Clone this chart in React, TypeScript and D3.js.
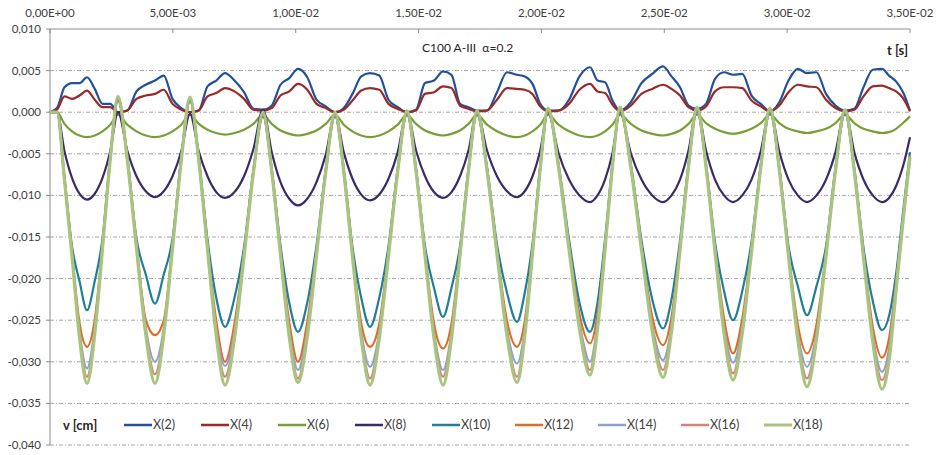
import React from 'react';
import * as d3 from 'd3';

const width = 938;
const height = 455;
const margin = { top: 29, right: 28, bottom: 10, left: 50 };

// sample times [s]
const time = [
  0, 0.000285, 0.00059, 0.000895, 0.0012, 0.001506, 0.001821, 0.002137, 0.002452, 0.002768,
  0.003144, 0.00352, 0.003897, 0.004273, 0.004629, 0.004986, 0.005342, 0.005698,
  0.006054, 0.00641, 0.006766, 0.007122, 0.007509, 0.007896, 0.008282, 0.008669,
  0.009025, 0.009381, 0.009737, 0.010093, 0.01047, 0.010846, 0.011223, 0.011599,
  0.011955, 0.012311, 0.012667, 0.013024, 0.0134, 0.013776, 0.014153, 0.014529,
  0.014896, 0.015262, 0.015628, 0.015995, 0.01634, 0.016686, 0.017032, 0.017378,
  0.017785, 0.018192, 0.018599, 0.019006, 0.019322, 0.019637, 0.019952, 0.020268,
  0.020695, 0.021123, 0.02155, 0.021977, 0.022282, 0.022588, 0.022893, 0.023198,
  0.023636, 0.024073, 0.024511, 0.024948, 0.025294, 0.02564, 0.025986, 0.026332,
  0.026698, 0.027064, 0.027431, 0.027797, 0.028174, 0.02855, 0.028926, 0.029303,
  0.029679, 0.030056, 0.030432, 0.030809, 0.031195, 0.031582, 0.031969, 0.032355,
  0.032732, 0.033108, 0.033485, 0.033861, 0.034146, 0.034431, 0.034716, 0.035
];

// displacements v [cm]
const x2 = [
  0, 0.0005, 0.003, 0.0035, 0.0035, 0.0042, 0.0028, 0.001, 0.001, 0,
  0.0002, 0.0025, 0.0033, 0.0038, 0.0044, 0.0016, 0.0005, 0,
  0.0002, 0.0031, 0.0038, 0.0047, 0.0038, 0.0024, 0.0004, 0.0003,
  0.0008, 0.0033, 0.0041, 0.0052, 0.0042, 0.0015, 0.0007, 0,
  0.0005, 0.0022, 0.0043, 0.0047, 0.0044, 0.0015, 0.0006, 0,
  0.0003, 0.0035, 0.0038, 0.0049, 0.0045, 0.001, 0.0006, 0.0002,
  0.0002, 0.0024, 0.0048, 0.0045, 0.0043, 0.0034, 0.001, 0.0002,
  0.0002, 0.0015, 0.0043, 0.0054, 0.0038, 0.0036, 0.0014, 0.0002,
  0.0012, 0.0035, 0.0046, 0.0055, 0.0043, 0.003, 0.0008, 0.0004,
  0.001, 0.004, 0.0048, 0.0045, 0.0046, 0.002, 0.001, 0.0001,
  0.0012, 0.0038, 0.0052, 0.0047, 0.0048, 0.0022, 0.0008, 0.0002,
  0.0004, 0.003, 0.0051, 0.0052, 0.0044, 0.0037, 0.0024, 0.0002
];
const x4 = [
  0, 0.0003, 0.0019, 0.0016, 0.002, 0.0026, 0.0015, 0.0006, 0.0006, 0,
  0.0002, 0.0016, 0.002, 0.0022, 0.0027, 0.001, 0.0003, 0,
  0.0002, 0.0019, 0.0023, 0.0029, 0.0025, 0.0016, 0.0003, 0.0002,
  0.0005, 0.002, 0.0025, 0.0034, 0.0027, 0.001, 0.0005, 0,
  0.0003, 0.0014, 0.0026, 0.0029, 0.0027, 0.001, 0.0004, 0,
  0.0002, 0.0022, 0.0024, 0.0031, 0.0029, 0.0008, 0.0004, 0.0001,
  0.0002, 0.0015, 0.0029, 0.0028, 0.0027, 0.0022, 0.0007, 0.0001,
  0.0002, 0.001, 0.0027, 0.0034, 0.0025, 0.0023, 0.0009, 0.0001,
  0.0008, 0.0022, 0.0028, 0.0033, 0.0028, 0.002, 0.0006, 0.0002,
  0.0007, 0.0025, 0.003, 0.003, 0.0029, 0.0014, 0.0007, 0.0001,
  0.0008, 0.0024, 0.0033, 0.0031, 0.003, 0.0015, 0.0005, 0.0001,
  0.0003, 0.0019, 0.0031, 0.0032, 0.0029, 0.0025, 0.0017, 0.0001
];
const x6 = [
  0, 0, -0.0014, -0.0023, -0.0028, -0.003, -0.0028, -0.0023, -0.0015, -0.0003,
  -0.0015, -0.0023, -0.0028, -0.003, -0.0028, -0.0023, -0.0015, -0.0003,
  -0.0014, -0.0021, -0.0025, -0.0027, -0.0025, -0.0021, -0.0014, -0.0003,
  -0.0014, -0.0022, -0.0026, -0.0028, -0.0026, -0.0022, -0.0014, -0.0003,
  -0.0015, -0.0023, -0.0028, -0.003, -0.0028, -0.0023, -0.0015, -0.0003,
  -0.0014, -0.0022, -0.0026, -0.0028, -0.0026, -0.0022, -0.0014, -0.0003,
  -0.0015, -0.0023, -0.0028, -0.003, -0.0028, -0.0023, -0.0015, -0.0003,
  -0.0015, -0.0023, -0.0028, -0.003, -0.0028, -0.0023, -0.0015, -0.0003,
  -0.0014, -0.0022, -0.0026, -0.0028, -0.0026, -0.0022, -0.0014, -0.0003,
  -0.0013, -0.002, -0.0024, -0.0026, -0.0024, -0.002, -0.0013, -0.0003,
  -0.0013, -0.002, -0.0023, -0.0025, -0.0023, -0.002, -0.0013, -0.0003,
  -0.0013, -0.002, -0.0023, -0.0025, -0.0024, -0.002, -0.0013, -0.0005
];
const x8 = [
  0, 0, -0.0047, -0.0079, -0.0098, -0.0105, -0.0098, -0.0079, -0.0047, 0,
  -0.0046, -0.0077, -0.0095, -0.0102, -0.0095, -0.0077, -0.0047, -0.0002,
  -0.0047, -0.0077, -0.0096, -0.0103, -0.0096, -0.0077, -0.0044, 0.0003,
  -0.0048, -0.0084, -0.0104, -0.0112, -0.0104, -0.0084, -0.0051, -0.0002,
  -0.0048, -0.008, -0.0099, -0.0106, -0.0099, -0.008, -0.0048, 0,
  -0.0046, -0.0077, -0.0096, -0.0103, -0.0096, -0.0077, -0.0046, 0,
  -0.0046, -0.0077, -0.0095, -0.0102, -0.0095, -0.0077, -0.0046, 0,
  -0.0049, -0.0081, -0.01, -0.0108, -0.01, -0.0081, -0.0049, 0,
  -0.0049, -0.0081, -0.01, -0.0108, -0.01, -0.0081, -0.0046, 0.0005,
  -0.0046, -0.0081, -0.01, -0.0108, -0.01, -0.0081, -0.0047, 0.0003,
  -0.0047, -0.0081, -0.01, -0.0108, -0.01, -0.0081, -0.0048, 0.0002,
  -0.0048, -0.0081, -0.01, -0.0108, -0.0103, -0.0089, -0.0065, -0.003
];
const x10 = [
  0, 0, -0.0078, -0.0161, -0.0203, -0.0238, -0.0203, -0.0152, -0.0053, 0.0014,
  -0.0053, -0.0152, -0.0195, -0.023, -0.0195, -0.0152, -0.0054, 0.0013,
  -0.0054, -0.0153, -0.0223, -0.0258, -0.0223, -0.0162, -0.0068, -0.0005,
  -0.0068, -0.016, -0.0229, -0.0264, -0.0229, -0.016, -0.0068, -0.0005,
  -0.0068, -0.0162, -0.0223, -0.0258, -0.0223, -0.0161, -0.0067, -0.0003,
  -0.0067, -0.0161, -0.0211, -0.0246, -0.0211, -0.0161, -0.0067, -0.0003,
  -0.0066, -0.0159, -0.0217, -0.0252, -0.0217, -0.0158, -0.0064, 0,
  -0.0062, -0.0153, -0.0229, -0.0264, -0.0229, -0.0153, -0.0061, 0.0001,
  -0.0062, -0.0154, -0.0225, -0.026, -0.0225, -0.0154, -0.0062, 0.0001,
  -0.0062, -0.0156, -0.0215, -0.025, -0.0215, -0.0156, -0.0063, 0,
  -0.0065, -0.0161, -0.0209, -0.0244, -0.0209, -0.0161, -0.0066, -0.0002,
  -0.0067, -0.0163, -0.0227, -0.0262, -0.0245, -0.0195, -0.012, -0.0048
];
const x12 = [
  0, 0, -0.008, -0.0168, -0.0253, -0.0282, -0.0249, -0.0159, -0.0055, 0.0016,
  -0.0055, -0.0159, -0.0249, -0.0268, -0.025, -0.0159, -0.0056, 0.0015,
  -0.0056, -0.016, -0.0251, -0.03, -0.0254, -0.0169, -0.007, -0.0003,
  -0.007, -0.0167, -0.0252, -0.03, -0.0252, -0.0167, -0.007, -0.0003,
  -0.007, -0.0169, -0.0254, -0.0282, -0.0254, -0.0168, -0.0069, -0.0001,
  -0.0069, -0.0168, -0.0254, -0.0284, -0.0254, -0.0168, -0.0069, -0.0001,
  -0.0068, -0.0166, -0.0251, -0.0282, -0.0251, -0.0165, -0.0066, 0.0002,
  -0.0064, -0.016, -0.0243, -0.0278, -0.0243, -0.016, -0.0063, 0.0003,
  -0.0064, -0.0161, -0.0246, -0.028, -0.0246, -0.0161, -0.0064, 0.0003,
  -0.0064, -0.0163, -0.0248, -0.029, -0.0248, -0.0163, -0.0065, 0.0002,
  -0.0067, -0.0168, -0.0255, -0.029, -0.0255, -0.0168, -0.0068, 0,
  -0.0069, -0.017, -0.0258, -0.0295, -0.0272, -0.0205, -0.0127, -0.0052
];
const x14 = [
  0, 0, -0.0081, -0.017, -0.0263, -0.0308, -0.0259, -0.0161, -0.0056, 0.0017,
  -0.0056, -0.0161, -0.0259, -0.03, -0.026, -0.0161, -0.0057, 0.0016,
  -0.0057, -0.0162, -0.0261, -0.0305, -0.0264, -0.0171, -0.0071, -0.0002,
  -0.0071, -0.0169, -0.0262, -0.031, -0.0262, -0.0169, -0.0071, -0.0002,
  -0.0071, -0.0171, -0.0264, -0.0306, -0.0264, -0.017, -0.007, 0,
  -0.007, -0.017, -0.0264, -0.031, -0.0264, -0.017, -0.007, 0,
  -0.0069, -0.0168, -0.0261, -0.0302, -0.0261, -0.0167, -0.0067, 0.0003,
  -0.0065, -0.0162, -0.0253, -0.03, -0.0253, -0.0162, -0.0064, 0.0004,
  -0.0065, -0.0163, -0.0256, -0.0298, -0.0256, -0.0163, -0.0065, 0.0004,
  -0.0065, -0.0165, -0.0258, -0.0301, -0.0258, -0.0165, -0.0066, 0.0003,
  -0.0068, -0.017, -0.0265, -0.0306, -0.0265, -0.017, -0.0069, 0.0001,
  -0.007, -0.0172, -0.0268, -0.0312, -0.0284, -0.0208, -0.0128, -0.0053
];
const x16 = [
  0, 0, -0.0082, -0.0171, -0.0267, -0.0318, -0.0263, -0.0162, -0.0057, 0.0018,
  -0.0057, -0.0162, -0.0263, -0.0315, -0.0264, -0.0162, -0.0058, 0.0017,
  -0.0058, -0.0163, -0.0265, -0.0318, -0.0268, -0.0172, -0.0072, -0.0001,
  -0.0072, -0.017, -0.0266, -0.032, -0.0266, -0.017, -0.0072, -0.0001,
  -0.0072, -0.0172, -0.0268, -0.032, -0.0268, -0.0171, -0.0071, 0.0001,
  -0.0071, -0.0171, -0.0268, -0.0318, -0.0268, -0.0171, -0.0071, 0.0001,
  -0.007, -0.0169, -0.0265, -0.0318, -0.0265, -0.0168, -0.0068, 0.0004,
  -0.0066, -0.0163, -0.0257, -0.031, -0.0257, -0.0163, -0.0065, 0.0005,
  -0.0066, -0.0164, -0.026, -0.031, -0.026, -0.0164, -0.0066, 0.0005,
  -0.0066, -0.0166, -0.0262, -0.0314, -0.0262, -0.0166, -0.0067, 0.0004,
  -0.0069, -0.0171, -0.0269, -0.032, -0.0269, -0.0171, -0.007, 0.0002,
  -0.0071, -0.0173, -0.0272, -0.0322, -0.0292, -0.0212, -0.013, -0.0054
];
const x18 = [
  0, 0, -0.0082, -0.0173, -0.0271, -0.0326, -0.0267, -0.0164, -0.0057, 0.0019,
  -0.0057, -0.0164, -0.0267, -0.0326, -0.0268, -0.0164, -0.0058, 0.0018,
  -0.0058, -0.0165, -0.0269, -0.0328, -0.0272, -0.0174, -0.0072, 0,
  -0.0072, -0.0172, -0.027, -0.0325, -0.027, -0.0172, -0.0072, 0,
  -0.0072, -0.0174, -0.0272, -0.0328, -0.0272, -0.0173, -0.0071, 0.0002,
  -0.0071, -0.0173, -0.0272, -0.0328, -0.0272, -0.0173, -0.0071, 0.0002,
  -0.007, -0.0171, -0.0269, -0.0325, -0.0269, -0.017, -0.0068, 0.0005,
  -0.0066, -0.0165, -0.0261, -0.0316, -0.0261, -0.0165, -0.0065, 0.0006,
  -0.0066, -0.0166, -0.0264, -0.0319, -0.0264, -0.0166, -0.0066, 0.0006,
  -0.0066, -0.0168, -0.0266, -0.0322, -0.0266, -0.0168, -0.0067, 0.0005,
  -0.0069, -0.0173, -0.0273, -0.033, -0.0273, -0.0173, -0.007, 0.0003,
  -0.0071, -0.0175, -0.0276, -0.0333, -0.0299, -0.0215, -0.0131, -0.0054
];

const seriesNames = ['X(2)', 'X(4)', 'X(6)', 'X(8)', 'X(10)', 'X(12)', 'X(14)', 'X(16)', 'X(18)'];
const seriesValues = [x2, x4, x6, x8, x10, x12, x14, x16, x18];
const colors = ['#22509a', '#9a2a28', '#76a035', '#3a2a6a', '#1f7f99', '#e06d1e', '#8aa2d6', '#d8817c', '#a8c47e'];

const xTicks = [0, 0.005, 0.01, 0.015, 0.02, 0.025, 0.03, 0.035];
const xTickLabels = ['0,00E+00', '5,00E-03', '1,00E-02', '1,50E-02', '2,00E-02', '2,50E-02', '3,00E-02', '3,50E-02'];
const yTicks = [0.01, 0.005, 0, -0.005, -0.01, -0.015, -0.02, -0.025, -0.03, -0.035, -0.04];
const yTickLabels = ['0,010', '0,005', '0,000', '-0,005', '-0,010', '-0,015', '-0,020', '-0,025', '-0,030', '-0,035', '-0,040'];

const font = 'Lato, "Open Sans", sans-serif';
const axisColor = '#8c8c8c';

export default function App() {
  const x = d3.scaleLinear().domain([0, 0.035]).range([margin.left, width - margin.right]);
  const y = d3.scaleLinear().domain([-0.04, 0.01]).range([height - margin.bottom, margin.top]);

  const line = d3
    .line<number>()
    .x((_, i) => x(time[i]))
    .y(d => y(d))
    .curve(d3.curveMonotoneX);

  const legendX = (i: number) => 124 + i * 77 + Math.max(0, i - 4) * 6;
  const legendY = 425;

  return (
    <svg
      width={width}
      height={height}
      style={{ position: 'absolute', left: 0, top: 0, background: '#fff', fontFamily: font }}
    >
      <rect width={width} height={height} fill="#fff" />
      {/* dotted gridlines */}
      {yTicks.slice(1).map(t => (
        <line
          key={t}
          x1={margin.left}
          x2={width - margin.right}
          y1={y(t)}
          y2={y(t)}
          stroke="#a6a6a6"
          strokeWidth={1}
          strokeDasharray="4 2 1 2"
        />
      ))}
      {/* axes */}
      <line x1={margin.left} x2={width - margin.right} y1={y(0.01)} y2={y(0.01)} stroke={axisColor} />
      <line x1={margin.left} x2={margin.left} y1={y(0.01)} y2={y(-0.04)} stroke={axisColor} />
      {xTicks.map((t, i) => (
        <g key={t}>
          <line x1={x(t)} x2={x(t)} y1={y(0.01)} y2={y(0.01) + 4} stroke={axisColor} />
          <text x={x(t)} y={17} textAnchor="middle" fontSize={11.5} fill="#404040">
            {xTickLabels[i]}
          </text>
        </g>
      ))}
      {yTicks.map((t, i) => (
        <g key={t}>
          <line x1={margin.left - 4} x2={margin.left} y1={y(t)} y2={y(t)} stroke={axisColor} />
          <text x={41} y={y(t)} dy="0.35em" textAnchor="end" fontSize={11.5} fill="#404040">
            {yTickLabels[i]}
          </text>
        </g>
      ))}
      {/* series */}
      {seriesValues.map((vals, i) => (
        <path
          key={seriesNames[i]}
          d={line(vals) || ''}
          fill="none"
          stroke={colors[i]}
          strokeWidth={i === 8 ? 3.2 : 2.2}
          strokeLinejoin="round"
        />
      ))}
      <text x={422} y={52} fontSize={12} fill="#262626">
        {'C100 A-III\u00a0\u00a0α=0.2'}
      </text>
      <text x={908} y={55} textAnchor="end" fontSize={13} fontWeight="bold" fill="#262626">
        t [s]
      </text>
      {/* legend */}
      <text x={63} y={legendY} dy="0.35em" fontSize={13} fontWeight="bold" fill="#262626">
        v [cm]
      </text>
      {seriesNames.map((name, i) => (
        <g key={name}>
          <line
            x1={legendX(i)}
            x2={legendX(i) + 28}
            y1={legendY}
            y2={legendY}
            stroke={colors[i]}
            strokeWidth={i === 8 ? 3 : 2.5}
          />
          <text x={legendX(i) + 29} y={legendY} dy="0.35em" fontSize={12.5} fill="#404040">
            {name}
          </text>
        </g>
      ))}
    </svg>
  );
}
